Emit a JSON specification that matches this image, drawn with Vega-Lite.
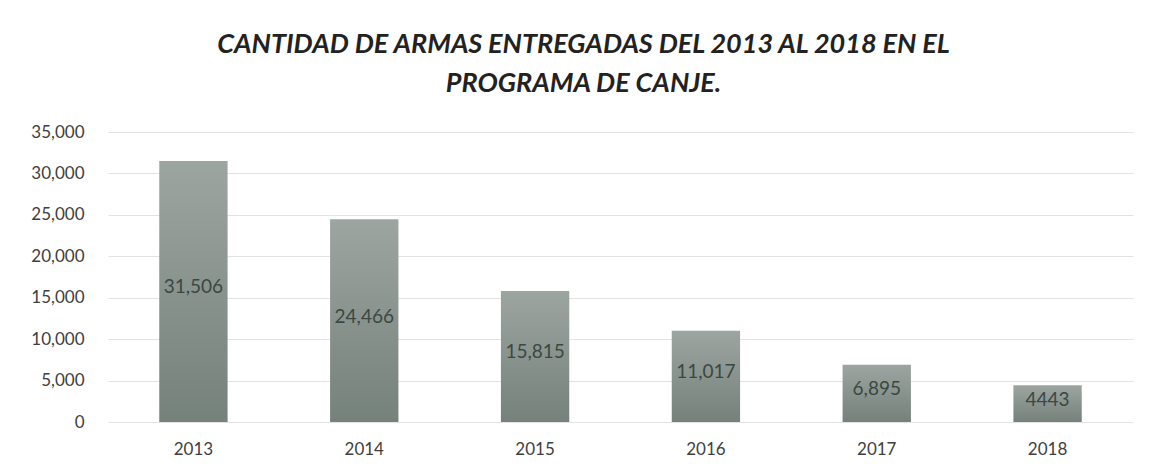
{
  "$schema": "https://vega.github.io/schema/vega-lite/v6.json",
  "autosize": "none",
  "width": 1025,
  "height": 290,
  "padding": {"left": 108, "top": 132, "right": 17, "bottom": 54},
  "background": "white",
  "config": {"view": {"stroke": null}, "font": "Lato"},
  "title": {
    "text": ["CANTIDAD DE ARMAS ENTREGADAS DEL 2013 AL 2018 EN EL", "PROGRAMA DE CANJE."],
    "font": "Lato",
    "fontSize": 27,
    "fontStyle": "italic",
    "fontWeight": "bold",
    "color": "#222222",
    "anchor": "middle",
    "dx": -37,
    "lineHeight": 39,
    "offset": 25
  },
  "data": {
    "values": [
      {"year": "2013", "value": 31506, "label": "31,506"},
      {"year": "2014", "value": 24466, "label": "24,466"},
      {"year": "2015", "value": 15815, "label": "15,815"},
      {"year": "2016", "value": 11017, "label": "11,017"},
      {"year": "2017", "value": 6895, "label": "6,895"},
      {"year": "2018", "value": 4443, "label": "4443"}
    ]
  },
  "encoding": {
    "x": {
      "field": "year",
      "type": "nominal",
      "scale": {"paddingInner": 0.6, "paddingOuter": 0.3},
      "axis": {
        "title": null,
        "labelAngle": 0,
        "labelFont": "Lato",
        "labelFontSize": 17,
        "labelColor": "#404040",
        "labelPadding": 19,
        "domain": false,
        "ticks": false
      }
    }
  },
  "layer": [
    {
      "mark": {
        "type": "bar",
        "color": {
          "gradient": "linear",
          "x1": 0, "y1": 0, "x2": 0, "y2": 1,
          "stops": [
            {"offset": 0, "color": "#9da5a1"},
            {"offset": 1, "color": "#75817b"}
          ]
        }
      },
      "encoding": {
        "y": {
          "field": "value",
          "type": "quantitative",
          "scale": {"domain": [0, 35000]},
          "axis": {
            "title": null,
            "values": [0, 5000, 10000, 15000, 20000, 25000, 30000, 35000],
            "format": ",.0f",
            "labelFont": "Lato",
            "labelFontSize": 17,
            "labelColor": "#404040",
            "labelPadding": 24,
            "domain": false,
            "ticks": false,
            "gridColor": "#e3e3e3",
            "gridWidth": 1
          }
        }
      }
    },
    {
      "mark": {
        "type": "text",
        "font": "Lato",
        "fontSize": 19,
        "color": "#3a4842",
        "baseline": "middle",
        "align": "center",
        "dy": -4
      },
      "encoding": {
        "y": {
          "field": "value",
          "type": "quantitative",
          "scale": {"domain": [0, 70000]},
          "axis": null
        },
        "text": {"field": "label"}
      }
    }
  ],
  "resolve": {"scale": {"y": "independent"}}
}
